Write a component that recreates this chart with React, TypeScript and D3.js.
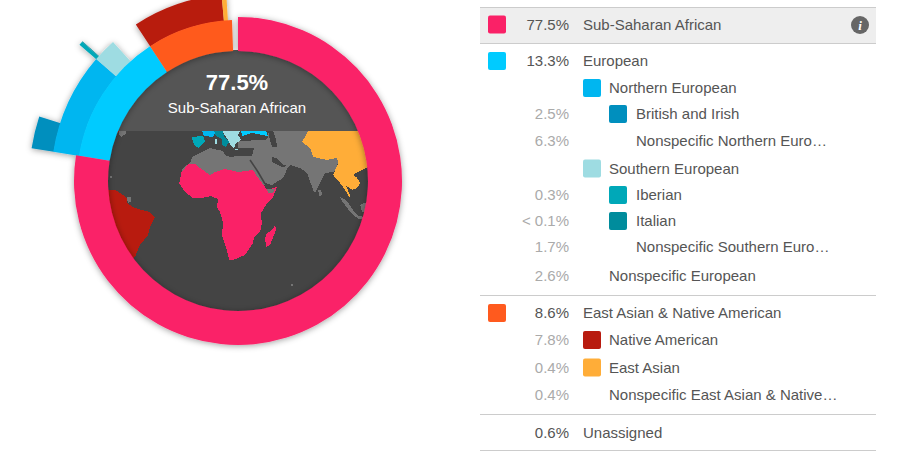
import React from "react";
import * as d3 from "d3";

const WIDTH = 910;
const HEIGHT = 451;

// ---- sunburst data (percent)
const level1Names = ["Sub-Saharan African", "European", "East Asian & Native American", "Unassigned"];
const level1Values = [77.5, 13.3, 8.6, 0.6];
const level1Colors = ["#fa2167", "#00cbff", "#ff5a1e", "none"];

const europeanNames = ["Northern European", "Southern European", "Nonspecific European"];
const europeanValues = [8.8, 2.05, 2.6];
const europeanColors = ["#00b6f0", "#9edce2", "none"];

const eastNames = ["Native American", "East Asian", "Nonspecific East Asian & Native American"];
const eastValues = [7.8, 0.4, 0.4];
const eastColors = ["#b81b0f", "#ffad38", "none"];

const subEuropeanNames = ["British and Irish", "Nonspecific Northern European", "Iberian", "Italian", "Nonspecific Southern European"];
const subEuropeanValues = [2.5, 6.3, 0.3, 0.05, 1.7];
const subEuropeanColors = ["#008fbe", "none", "#00a8b8", "#008c9c", "none"];

// ---- legend rows
const rowPercents = ["77.5%", "13.3%", "", "2.5%", "6.3%", "", "0.3%", "< 0.1%", "1.7%", "2.6%", "8.6%", "7.8%", "0.4%", "0.4%", "0.6%"];
const rowNames = ["Sub-Saharan African", "European", "Northern European", "British and Irish", "Nonspecific Northern Euro…", "Southern European", "Iberian", "Italian", "Nonspecific Southern Euro…", "Nonspecific European", "East Asian & Native American", "Native American", "East Asian", "Nonspecific East Asian & Native…", "Unassigned"];
const rowLevels = [0, 0, 1, 2, 2, 1, 2, 2, 2, 1, 0, 1, 1, 1, 0];
const rowColors = ["#fa2167", "#00cbff", "#00b6f0", "#008fbe", "", "#9edce2", "#00a8b8", "#008c9c", "", "", "#ff5a1e", "#b81b0f", "#ffad38", "", ""];
const rowCenters = [24.5, 61, 88, 114, 141, 168.5, 195, 221, 247, 275.5, 313, 340, 367.5, 394.5, 433];
const rowStrong = [true, true, false, false, false, false, false, false, false, false, true, false, false, false, true];
const ruleYs = [295.5, 414.5, 450.5];

// ---- map outlines as [lon, lat]
type P = [number, number];
const afroEurasia: P[] = [[-16.1,19.4],[-14.7,22.5],[-9.1,26.3],[-8.4,29.4],[4.2,35],[13.3,33.1],[14.7,30.6],[18.2,29.4],[23.8,30],[33.6,30],[35,35],[23.8,35],[23.8,39.4],[42.7,40],[44.8,41.3],[44.8,45.6],[72.8,45.6],[68.6,38.8],[74.2,35],[76.3,29.4],[86.1,27.5],[93.1,28.8],[93.8,25.6],[91,20],[84.7,19.4],[77.7,6.9],[76.3,8.8],[72.1,19.4],[67.2,22.5],[60.2,24.4],[58.8,23.1],[55.3,16.3],[47.6,11.9],[42.7,13.1],[40.6,5.6],[11.2,8.8],[-16.1,15]];
const caspian: P[] = [[44.8,45.6],[48.3,45.6],[50.4,40],[51.1,35.6],[47.6,35.6],[46.2,40]];
const persianGulf: P[] = [[47.6,29.4],[50.4,28.8],[55.3,24.4],[58.8,23.8],[54.6,23.1],[47.6,26.3]];
const redSea: P[] = [[32.2,27.5],[37.8,20],[42.7,12.5]];
const africa: P[] = [[-16.8,13.8],[-16.1,19.4],[-13.3,22.5],[-11.2,25],[-6.3,25],[-2.8,22.5],[4.2,18.1],[7.7,20],[14.7,21.9],[23.8,20],[34.3,21.3],[36.4,18.1],[40.6,13.1],[44.1,8.8],[51.1,10.6],[48.3,4.4],[44.1,0.6],[39.9,-5.6],[39.9,-8.8],[40.6,-11.3],[39.2,-17.5],[35,-20.6],[34.3,-24.4],[28.7,-31.9],[20.3,-35],[17.5,-35],[16.1,-28.8],[12.6,-19.4],[13.3,-11.9],[11.2,-5],[9.1,-1.9],[9.8,3.1],[4.9,5],[-1.4,3.8],[-7.7,3.8],[-13.3,7.5],[-17.5,13.1]];
const madagascar: P[] = [[49.7,-13.1],[50.4,-16.3],[46.2,-25.6],[43.4,-26.9],[42.7,-21.3],[44.1,-18.1],[47.6,-16.3]];
const ethiopia: P[] = [[44.1,9.4],[49.7,9.4],[48.3,6.9],[44.8,6.9]];
const sriLanka: P[] = [[79.8,8.8],[81.9,8.8],[82.6,5.6],[80.5,5]];
const sumatra: P[] = [[95.2,4.4],[99.4,2.5],[104.3,-3.8],[107.8,-7.5],[105.7,-8.1],[100.1,-2.5],[95.9,2.5]];
const java: P[] = [[106.4,-7.5],[113,-8],[113,-9.5],[107,-9]];
const borneo: P[] = [[109.2,-0.6],[114,1.3],[114.8,-5],[110.6,-5]];
const eastAsia: P[] = [[72.8,45.6],[68.6,38.8],[74.2,35],[76.3,29.4],[86.1,27.5],[93.1,28.8],[93.8,25.6],[90.3,18.1],[95.2,13.1],[98.7,8.8],[101.5,4.4],[102.2,5],[99.4,11.3],[103.6,8.8],[107.1,10],[109.2,13.1],[107.1,16.3],[104.3,18.1],[106.4,19.4],[110.6,21.3],[116.2,23.8],[126.7,33.8],[126.7,45.6]];
const iberia: P[] = [[-8.4,41.9],[-0.7,42.5],[0.7,39.4],[-3.5,35],[-6.3,36.3],[-7.7,38.8]];
const france: P[] = [[-1.4,45.6],[8.4,45.6],[6.3,41.9],[0,42.5]];
const italy: P[] = [[7,45.6],[12.6,46.3],[14,42.5],[17.5,38.8],[15.4,35.6],[12.6,36.9],[12.6,40.6],[8.4,42.5]];
const balkans: P[] = [[12.6,45.6],[25.2,45.6],[23.8,43.1],[25.9,40],[22.4,38.1],[21,35],[18.9,36.3],[16.8,40],[14,43.8]];
const sardinia: P[] = [[7.7,40.6],[9.1,40.6],[9.1,37.5],[7.7,37.5]];
const crete: P[] = [[21.7,34.4],[24,34.4],[24,33.5],[21.7,33.5]];
const easternEurope: P[] = [[25.9,45.6],[43.4,45.6],[44.8,42.5],[33.6,44.4],[26.6,42.5]];
const brazil: P[] = [[-67.2,8.8],[-62.3,8.8],[-58.8,6.9],[-53.9,3.8],[-53.9,0.6],[-49.7,-1.9],[-43.4,-3.8],[-37.8,-5],[-34.3,-8.1],[-37.8,-14.4],[-39.2,-19.4],[-44.8,-25.6],[-48.3,-33.1],[-51.8,-36.3],[-72.8,-36.3],[-72.8,8.8]];
const guiana: P[] = [[-53.9,4.4],[-51.1,4.4],[-51.1,1.3],[-53.2,0.6]];
const northAmericaRed: P[] = [[-63,43.8],[-60.9,45.6],[-59.5,45.6],[-60.2,44.4]];
const caribbean: P[] = [[-59.5,45.6],[-54.6,45.6],[-54.6,43.8],[-58.1,41.9],[-59.5,43.8]];
const specks: P[] = [[60.9,-50],[-65.8,17.5]];

const GRAY = "#757575";
const mapLayers: [P[], string][] = [
  [afroEurasia, GRAY], [caspian, "#444444"], [persianGulf, "#444444"],
  [africa, "#fa2167"], [madagascar, "#fa2167"], [ethiopia, GRAY], [sriLanka, GRAY],
  [sumatra, GRAY], [java, GRAY], [borneo, GRAY], [eastAsia, "#ffad38"],
  [iberia, "#00a8b8"], [france, "#00b6f0"], [balkans, "#9edce2"], [italy, "#008c9c"],
  [sardinia, "#9edce2"], [crete, "#9edce2"], [easternEurope, "#00cbff"],
  [brazil, "#b81b0f"], [guiana, GRAY], [northAmericaRed, "#b81b0f"], [caribbean, GRAY],
];

// ---- geometry
const CX = 238;
const CY = 181;
const R_INNER = 130;
const R_SELECTED = 164;
const R1 = 161;
const R2 = 187;
const R3 = 209;
const TOOLTIP_BOTTOM = 131;

const angle = d3.scaleLinear().domain([0, 100]).range([0, 2 * Math.PI]);
const lonX = d3.scaleLinear().domain([-100, 100]).range([61, 347]);
const latY = d3.scaleLinear().domain([-50, 50]).range([284, 124]);
const arcGen = d3.arc();
const shape = d3.line<P>().x((d) => lonX(d[0])).y((d) => latY(d[1]));

function spans(values: number[], start: number) {
  const c = [start, ...Array.from(d3.cumsum(values), (v) => v + start)];
  return values.map((_, i) => [c[i], c[i + 1]]);
}

function arcPath(from: number, to: number, r0: number, r1: number) {
  return arcGen({ innerRadius: r0, outerRadius: r1, startAngle: angle(from), endAngle: angle(to) }) as string;
}

const font = '"Liberation Sans", Arial, Helvetica, sans-serif';

export default function App() {
  const l1 = spans(level1Values, 0);
  const euro = spans(europeanValues, l1[1][0]);
  const east = spans(eastValues, l1[2][0]);
  const sub = spans(subEuropeanValues, l1[1][0]);

  const rowX = [488, 583, 609];
  return (
    <svg width={WIDTH} height={HEIGHT} style={{ position: "absolute", left: 0, top: 0 }} fontFamily={font}>
      <defs>
        <clipPath id="globe"><circle cx={CX} cy={CY} r={R_INNER + 1} /></clipPath>
        <filter id="soft" x="-20%" y="-20%" width="140%" height="140%">
          <feDropShadow dx="0" dy="1" stdDeviation="3" floodColor="#000" floodOpacity="0.38" />
        </filter>
      </defs>

      <circle cx={CX} cy={CY} r={R_INNER + 1} fill="#444444" />
      <g clipPath="url(#globe)">
        <g shapeRendering="crispEdges">
          {mapLayers.map(([pts, color], i) => (
            <path key={i} d={(shape(pts) as string) + "Z"} fill={color} />
          ))}
          {specks.map((p, i) => (
            <rect key={i} x={lonX(p[0])} y={latY(p[1])} width={2} height={2} fill={GRAY} />
          ))}
        </g>
        <path d={shape(redSea) as string} fill="none" stroke="#444444" strokeWidth={1.6} />
        <rect x={CX - R_INNER - 2} y={CY - R_INNER - 2} width={2 * R_INNER + 4} height={TOOLTIP_BOTTOM - (CY - R_INNER - 2)} fill="#555555" />
      </g>

      <g filter="url(#soft)" transform={`translate(${CX},${CY})`}>
        {sub.map(([a, b], i) =>
          subEuropeanColors[i] === "none" ? null : (
            <path key={subEuropeanNames[i]} d={arcPath(a, b, R2 - 0.5, R3)} fill={subEuropeanColors[i]} />
          )
        )}
        {euro.map(([a, b], i) =>
          europeanColors[i] === "none" ? null : (
            <path key={europeanNames[i]} d={arcPath(a, b, R1 - 0.5, R2)} fill={europeanColors[i]} />
          )
        )}
        {east.map(([a, b], i) =>
          eastColors[i] === "none" ? null : (
            <path key={eastNames[i]} d={arcPath(a, b, R1 - 0.5, R2)} fill={eastColors[i]} />
          )
        )}
        {l1.map(([a, b], i) =>
          level1Colors[i] === "none" || i === 0 ? null : (
            <path key={level1Names[i]} d={arcPath(a, b, R_INNER, R1)} fill={level1Colors[i]} />
          )
        )}
        <path d={arcPath(l1[0][0], l1[0][1], R_INNER, R_SELECTED)} fill={level1Colors[0]} />
      </g>

      <text x={CX - 1} y={90} textAnchor="middle" fontSize={22} fontWeight={700} fill="#fff">{rowPercents[0]}</text>
      <text x={CX - 1} y={113} textAnchor="middle" fontSize={15} fill="#fff">{rowNames[0]}</text>

      {/* legend */}
      <rect x={480} y={7.5} width={396} height={36} fill="#eeeeee" />
      <line x1={480} x2={876} y1={7.5} y2={7.5} stroke="#cccccc" />
      <line x1={480} x2={876} y1={43.5} y2={43.5} stroke="#cccccc" />
      {ruleYs.map((y) => (
        <line key={y} x1={480} x2={876} y1={y} y2={y} stroke="#cccccc" />
      ))}
      {rowNames.map((name, i) => {
        const lvl = rowLevels[i];
        const y = rowCenters[i];
        const labelX = lvl === 0 ? 583 : lvl === 1 ? 609 : 636;
        return (
          <g key={name}>
            {rowColors[i] && (
              <rect x={rowX[lvl]} y={y - 9} width={18} height={18} rx={2} fill={rowColors[i]} />
            )}
            {rowPercents[i] && (
              <text x={569} y={y + 5} textAnchor="end" fontSize={15} fill={rowStrong[i] ? "#555555" : "#aaaaaa"}>
                {rowPercents[i]}
              </text>
            )}
            <text x={labelX} y={y + 5} fontSize={15} fill="#555555">{name}</text>
          </g>
        );
      })}
      <circle cx={860} cy={25} r={9} fill="#666666" />
      <text x={860} y={30} textAnchor="middle" fontSize={13} fontWeight={700} fontStyle="italic" fontFamily='"Liberation Serif", serif' fill="#fff">i</text>
    </svg>
  );
}
